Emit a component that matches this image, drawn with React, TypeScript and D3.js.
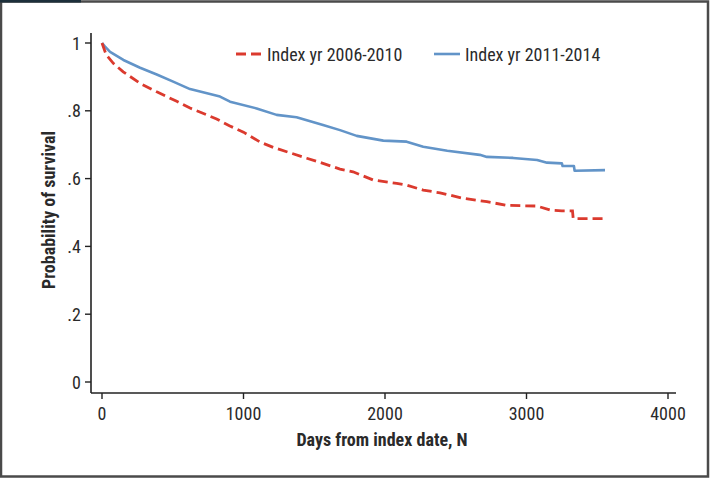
import React from "react";
import * as d3 from "d3";

const xTicks = [0, 1000, 2000, 3000, 4000];
const yTicks = [0, 0.2, 0.4, 0.6, 0.8, 1];
const yTickLabels = ["0", ".2", ".4", ".6", ".8", "1"];
const seriesNames = ["Index yr 2006-2010", "Index yr 2011-2014"];

const daysRed = [0, 30, 80, 150, 269, 387, 528, 622, 700, 810, 900, 1000, 1117, 1210, 1329, 1447, 1562, 1682, 1774, 1915, 2083, 2153, 2270, 2389, 2551, 2720, 2862, 3075, 3170, 3250, 3325, 3330, 3555];
const survRed = [1.0, 0.965, 0.94, 0.915, 0.881, 0.856, 0.828, 0.808, 0.795, 0.776, 0.756, 0.737, 0.708, 0.692, 0.676, 0.66, 0.645, 0.628, 0.62, 0.596, 0.586, 0.581, 0.566, 0.558, 0.542, 0.532, 0.521, 0.519, 0.507, 0.505, 0.505, 0.482, 0.482];

const daysBlue = [0, 20, 57, 151, 269, 387, 503, 622, 834, 905, 1093, 1234, 1375, 1562, 1682, 1800, 1988, 2153, 2270, 2440, 2670, 2720, 2905, 3075, 3145, 3250, 3255, 3335, 3340, 3555];
const survBlue = [1.0, 0.99, 0.974, 0.95, 0.927, 0.907, 0.886, 0.864, 0.842, 0.827, 0.807, 0.788, 0.781, 0.758, 0.743, 0.726, 0.712, 0.709, 0.694, 0.682, 0.67, 0.664, 0.661, 0.655, 0.647, 0.645, 0.637, 0.637, 0.623, 0.625];

const FONT = "'Liberation Sans Narrow', 'Arial Narrow', 'Roboto Condensed', sans-serif";
const TEXT = "#2a2a2a";
const RED = "#db3a2e";
const BLUE = "#6294c8";
const FS = 18;

export default function App() {
  const W = 710, H = 478;
  const x = d3.scaleLinear().domain([0, 4000]).range([102, 668]);
  const y = d3.scaleLinear().domain([0, 1]).range([382, 43]);
  const axisX = 91, axisY = 393;

  const redPts = daysRed.map((d, i) => [d, survRed[i]] as [number, number]);
  const bluePts = daysBlue.map((d, i) => [d, survBlue[i]] as [number, number]);
  const line = d3.line<[number, number]>().x(d => x(d[0])).y(d => y(d[1])).curve(d3.curveLinear);

  return (
    <svg width={W} height={H} style={{ position: "absolute", left: 0, top: 0, background: "#fff" }} fontFamily={FONT}>
      <rect x={1} y={1.5} width={W - 3} height={H - 3} fill="#fff" stroke="#4a4a4a" strokeWidth={2.5} />
      <rect x={0} y={0} width={81} height={2.5} fill="#1c2f3a" />
      {/* axes */}
      <line x1={axisX} x2={axisX} y1={33} y2={axisY} stroke="#222" strokeWidth={1.6} />
      <line x1={axisX} x2={676} y1={axisY} y2={axisY} stroke="#222" strokeWidth={1.6} />
      {yTicks.map((t, i) => (
        <g key={"y" + i}>
          <line x1={axisX - 6} x2={axisX} y1={y(t)} y2={y(t)} stroke="#222" strokeWidth={1.4} />
          <text x={81} y={y(t) + 6.5} textAnchor="end" fontSize={FS} fill={TEXT}>{yTickLabels[i]}</text>
        </g>
      ))}
      {xTicks.map((t, i) => (
        <g key={"x" + i}>
          <line x1={x(t)} x2={x(t)} y1={axisY} y2={axisY + 6} stroke="#222" strokeWidth={1.4} />
          <text x={x(t)} y={420} textAnchor="middle" fontSize={FS} fill={TEXT}>{d3.format("d")(t)}</text>
        </g>
      ))}
      <text x={382} y={446} textAnchor="middle" fontSize={FS} fontWeight="bold" fill={TEXT}>Days from index date, N</text>
      <text transform={`translate(55,210) rotate(-90)`} textAnchor="middle" fontSize={FS} fontWeight="bold" fill={TEXT}>Probability of survival</text>
      {/* curves */}
      <path d={line(bluePts) || ""} fill="none" stroke={BLUE} strokeWidth={2.6} strokeLinejoin="round" />
      <path d={line(redPts) || ""} fill="none" stroke={RED} strokeWidth={2.8} strokeDasharray="10 5" />
      {/* legend */}
      <line x1={236} x2={262} y1={54} y2={54} stroke={RED} strokeWidth={2.8} strokeDasharray="10 5" />
      <text x={267} y={60.5} fontSize={FS} fill={TEXT}>{seriesNames[0]}</text>
      <line x1={434} x2={460} y1={54} y2={54} stroke={BLUE} strokeWidth={2.6} />
      <text x={465} y={60.5} fontSize={FS} fill={TEXT}>{seriesNames[1]}</text>
    </svg>
  );
}
